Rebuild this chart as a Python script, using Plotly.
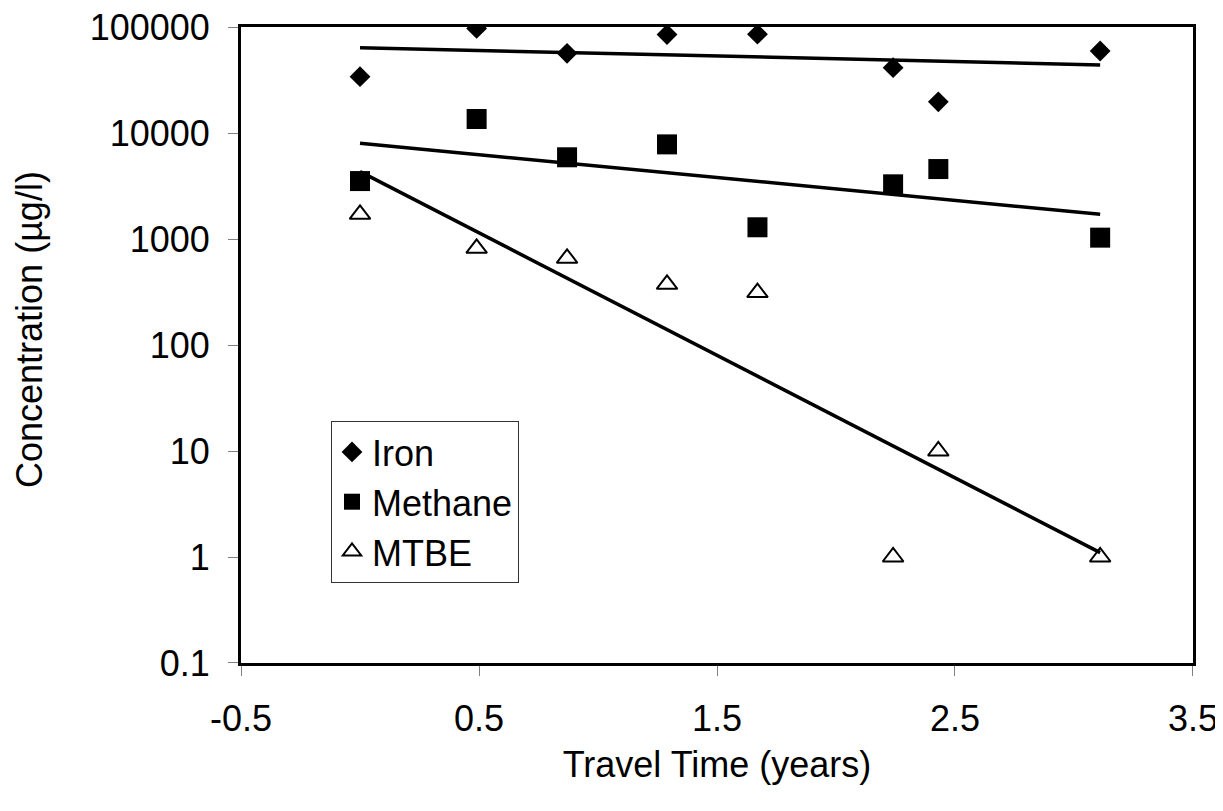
import plotly.graph_objects as go

# ---- data ----
travel_time = [0.0, 0.49, 0.87, 1.29, 1.67, 2.24, 2.43, 3.11]
iron = [34000, 97000, 56500, 85000, 85500, 41300, 19700, 59400]
methane = [3520, 13550, 5900, 7810, 1290, 3280, 4570, 1030]
mtbe = [1710, 816, 658, 374, 312, 1, 10, 1]

trend_x = [0.0, 3.11]
iron_trend = [63800, 43900]
methane_trend = [8000, 1710]
mtbe_trend = [4320, 1.1]

x_tickvals = [-0.5, 0.5, 1.5, 2.5, 3.5]
x_ticktext = ["-0.5", "0.5", "1.5", "2.5", "3.5"]
y_tickvals = [0.1, 1, 10, 100, 1000, 10000, 100000]
y_ticktext = ["0.1", "1", "10", "100", "1000", "10000", "100000"]

FONT = "Liberation Sans, Arial, sans-serif"
FS = 36

fig = go.Figure()

# trend lines (drawn first, markers on top)
for ty in (iron_trend, methane_trend, mtbe_trend):
    fig.add_trace(go.Scatter(x=trend_x, y=ty, mode="lines",
                             line=dict(color="black", width=3.5),
                             showlegend=False, hoverinfo="skip"))

fig.add_trace(go.Scatter(x=travel_time, y=iron, mode="markers", name="Iron",
                         marker=dict(symbol="diamond", size=16, color="black",
                                     line=dict(width=0))))
fig.add_trace(go.Scatter(x=travel_time, y=methane, mode="markers", name="Methane",
                         marker=dict(symbol="square", size=20, color="black",
                                     line=dict(width=0))))
fig.add_trace(go.Scatter(x=travel_time, y=mtbe, mode="markers", name="MTBE",
                         marker=dict(symbol="triangle-up-open", size=18, color="black",
                                     line=dict(width=2, color="black"))))

# page body has an 8px margin, so the figure starts 8px in from the window edge
fig.update_layout(
    width=1215, height=795,
    margin=dict(l=233, r=30, t=19, b=140, autoexpand=False),
    paper_bgcolor="white", plot_bgcolor="white",
    font=dict(family=FONT, size=FS, color="black"),
    showlegend=True,
    legend=dict(x=(331 - 241) / 952, y=(663 - 421) / 636, xanchor="left", yanchor="top",
                bgcolor="white", bordercolor="#333333", borderwidth=1,
                font=dict(family=FONT, size=FS, color="black"),
                traceorder="normal", itemsizing="trace"),
    xaxis=dict(
        range=[-0.5001, 3.5001], tickvals=x_tickvals, ticktext=x_ticktext,
        showgrid=False, zeroline=False, automargin=False,
        showline=True, linecolor="black", linewidth=3, mirror=True,
        ticks="outside", ticklen=10, tickwidth=1, tickcolor="#808080",
        ticklabelstandoff=12, ticklabeloverflow="allow",
        title=dict(text="Travel Time (years)", font=dict(family=FONT, size=FS), standoff=14),
    ),
    yaxis=dict(
        type="log", range=[-1.00005, 5.00005], tickvals=y_tickvals, ticktext=y_ticktext,
        showgrid=False, zeroline=False, automargin=False,
        showline=True, linecolor="black", linewidth=3, mirror=True,
        ticks="outside", ticklen=10, tickwidth=1, tickcolor="#808080",
        ticklabelstandoff=11, ticklabeloverflow="allow",
    ),
    annotations=[dict(text="Concentration (µg/l)", textangle=-90,
                      xref="paper", yref="paper",
                      x=(30 - 241) / 952, y=(663 - 330) / 636,
                      xanchor="center", yanchor="middle", showarrow=False,
                      font=dict(family=FONT, size=FS, color="black"))],
)

fig.write_html("out.html")
